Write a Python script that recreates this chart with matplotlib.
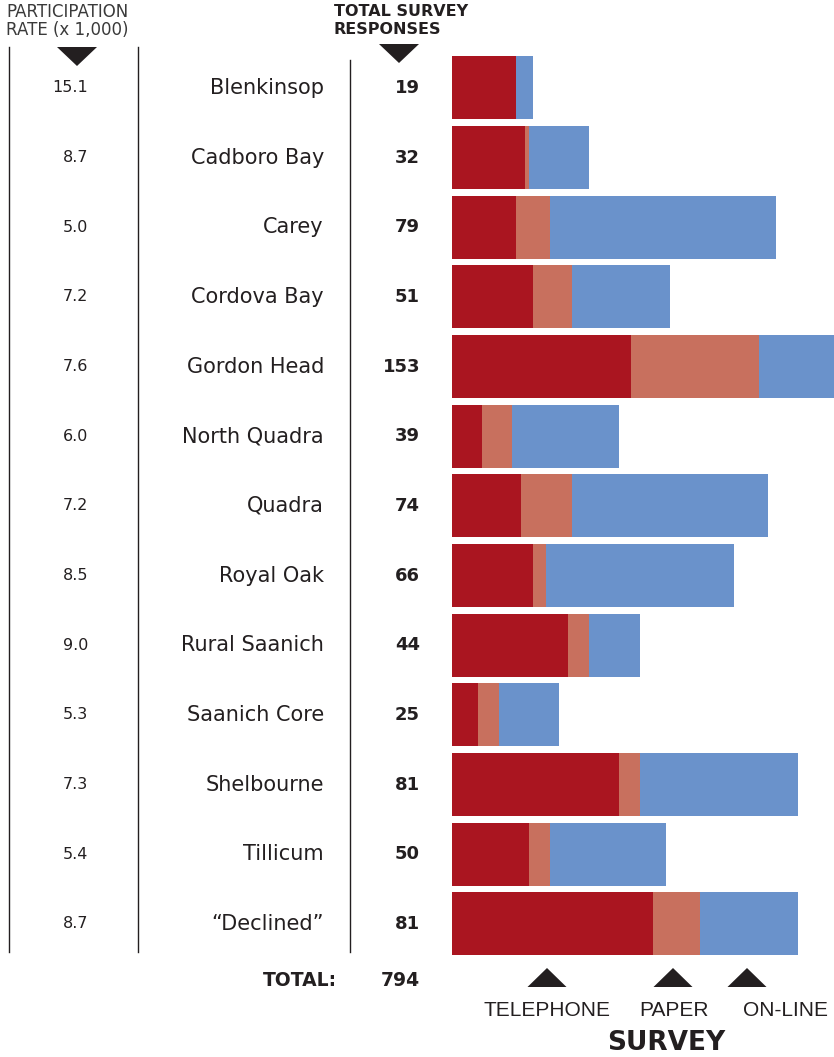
import matplotlib
matplotlib.use("Agg")
import matplotlib.pyplot as plt
from matplotlib import transforms
from matplotlib.patches import Polygon

# ---------------- data ----------------
areas = ["Blenkinsop", "Cadboro Bay", "Carey", "Cordova Bay", "Gordon Head",
         "North Quadra", "Quadra", "Royal Oak", "Rural Saanich", "Saanich Core",
         "Shelbourne", "Tillicum", "\u201cDeclined\u201d"]
participation_rate = ["15.1", "8.7", "5.0", "7.2", "7.6", "6.0", "7.2", "8.5",
                      "9.0", "5.3", "7.3", "5.4", "8.7"]
total_responses = [19, 32, 79, 51, 153, 39, 74, 66, 44, 25, 81, 50, 81]
telephone = [15, 17, 15, 19, 42, 7, 16, 19, 27, 6, 39, 18, 47]
paper = [0, 1, 8, 9, 30, 7, 12, 3, 5, 5, 5, 5, 11]
online = [4, 14, 53, 23, 81, 25, 46, 44, 12, 14, 37, 27, 23]
grand_total = 794
method_labels = ["TELEPHONE", "PAPER", "ON-LINE"]

# ---------------- style ----------------
W, H = 834, 1057
DPI = 100
C_TEL = "#AA1520"
C_PAP = "#C8705E"
C_ONL = "#6A92CB"
TXT = "#231F20"

fig = plt.figure(figsize=(W / DPI, H / DPI), dpi=DPI)
fig.patch.set_facecolor("white")

n = len(areas)
row0, rowN = 88.0, 924.0
step = (rowN - row0) / (n - 1)
top_px = row0 - step / 2
bot_px = rowN + step / 2
px_per_unit = 4.26
left_px = 452.5

ax = fig.add_axes([left_px / W, 1 - bot_px / H, (W - left_px) / W, (bot_px - top_px) / H])
ax.set_xlim(0, (W - left_px) / px_per_unit)
ax.set_ylim(n - 0.5, -0.5)
ax.axis("off")

ys = list(range(n))
bh = 63.0 / step
left2 = [a + b for a, b in zip(telephone, paper)]
ax.barh(ys, telephone, height=bh, color=C_TEL, linewidth=0)
ax.barh(ys, paper, left=telephone, height=bh, color=C_PAP, linewidth=0)
ax.barh(ys, online, left=left2, height=bh, color=C_ONL, linewidth=0)

# overlay axes in pixel coordinates
ov = fig.add_axes([0, 0, 1, 1], zorder=5)
ov.set_xlim(0, W)
ov.set_ylim(H, 0)
ov.axis("off")
ov.patch.set_alpha(0)

row_tr = transforms.blended_transform_factory(ov.transData, ax.transData)

for i in range(n):
    ov.text(88, i, participation_rate[i], transform=row_tr, ha="right", va="center",
            fontsize=11.5, color=TXT)
    ov.text(324, i, areas[i], transform=row_tr, ha="right", va="center",
            fontsize=15, color=TXT)
    ov.text(420, i, str(total_responses[i]), transform=row_tr, ha="right", va="center",
            fontsize=13, fontweight="bold", color=TXT)

# vertical rules
ov.plot([9, 9], [47, 952], color=TXT, lw=1)
ov.plot([138, 138], [47, 952], color=TXT, lw=1)
ov.plot([350, 350], [60, 952], color=TXT, lw=1)

# headers
ov.text(6, 12, "PARTICIPATION", ha="left", va="center", fontsize=12, color="#3a3a3a")
ov.text(6, 30, "RATE (x 1,000)", ha="left", va="center", fontsize=12, color="#3a3a3a")
ov.text(334, 12, "TOTAL SURVEY", ha="left", va="center",
        fontsize=11.5, fontweight="bold", color=TXT)
ov.text(334, 30, "RESPONSES", ha="left", va="center",
        fontsize=11.5, fontweight="bold", color=TXT)

def tri(cx, y0, y1, half, down=True):
    if down:
        pts = [(cx - half, y0), (cx + half, y0), (cx, y1)]
    else:
        pts = [(cx - half, y1), (cx + half, y1), (cx, y0)]
    ov.add_patch(Polygon(pts, closed=True, color=TXT, lw=0))

tri(77, 47, 66, 20, down=True)
tri(399, 44, 63, 20, down=True)
for cx in (547, 673, 747):
    tri(cx, 968, 987, 19.5, down=False)

# totals row
ov.text(337, 980, "TOTAL:", ha="right", va="center", fontsize=13.5, fontweight="bold", color=TXT)
ov.text(420, 980, str(grand_total), ha="right", va="center", fontsize=13.5,
        fontweight="bold", color=TXT)

# method labels
narrow = ["Liberation Sans Narrow", "Liberation Sans", "DejaVu Sans"]
for cx, lab in zip((547, 674, 786), method_labels):
    ov.text(cx, 1011, lab, ha="center", va="center", fontsize=15,
            family=narrow, color=TXT)
ov.text(666, 1043, "SURVEY", ha="center", va="center", fontsize=19,
        fontweight="bold", color=TXT)

fig.savefig("out.png", dpi=DPI, facecolor="white")
